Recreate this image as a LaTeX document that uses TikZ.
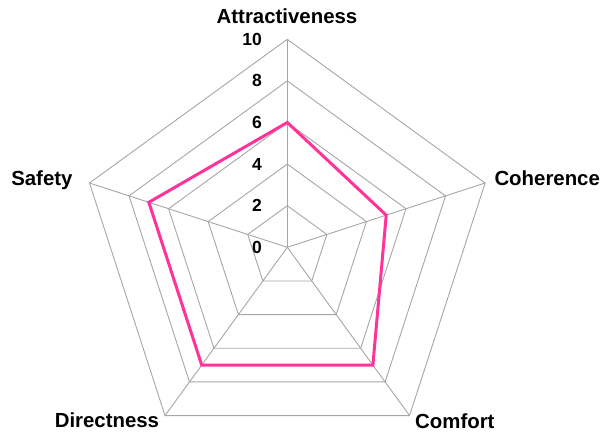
\documentclass[tikz,border=0pt]{standalone}
\usepackage{fontspec}
\setmainfont{Liberation Sans}
\usetikzlibrary{calc}
\definecolor{gridgray}{HTML}{A6A6A6}
\definecolor{datapink}{HTML}{FF3399}
\tikzset{
  gridline/.style={draw=gridgray, line width=0.9pt},
  dataline/.style={draw=datapink, line width=3pt, line join=miter},
  axislabel/.style={inner sep=0pt, font=\fontsize{20.4}{21}\selectfont\bfseries},
  ticklabel/.style={inner sep=0pt, anchor=east, font=\fontsize{17.5}{18}\selectfont\bfseries}
}
\begin{document}
\begin{tikzpicture}[x=1pt,y=1pt]
\useasboundingbox (0,0) rectangle (611,439);
\def\R{20.8}
\coordinate (c) at (287.3,191.7);
% axis vertices
\foreach \n/\a in {att/90,coh/18,com/-54,dir/-126,saf/162}{
  \coordinate (\n) at ($(c)+(\a:10*\R)$);
}
% grid pentagons
\foreach \k in {2,4,6,8,10}{
  \draw[gridline] ($(c)+(90:\k*\R)$) -- ($(c)+(18:\k*\R)$) -- ($(c)+(-54:\k*\R)$) -- ($(c)+(-126:\k*\R)$) -- ($(c)+(162:\k*\R)$) -- cycle;
}
% spokes
\foreach \n in {att,coh,com,dir,saf}{
  \draw[gridline] (c) -- (\n);
}
% data
\coordinate (d1) at ($(c)!0.6!(att)$);
\coordinate (d2) at ($(c)!0.5!(coh)$);
\coordinate (d3) at ($(c)!0.7!(com)$);
\coordinate (d4) at ($(c)!0.7!(dir)$);
\coordinate (d5) at ($(c)!0.7!(saf)$);
\draw[dataline] (d1) -- (d2) -- (d3) -- (d4) -- (d5) -- cycle;
% tick labels
\foreach \k in {0,2,4,6,8,10}{
  \node[ticklabel] (t\k) at (262,191.7+\k*\R) {\k};
}
% axis labels
\node[axislabel, anchor=base] (latt) at (287,415) {Attractiveness};
\node[axislabel, anchor=base east] (lsaf) at (72.7,253) {Safety};
\node[axislabel, anchor=base west] (lcoh) at (494.3,253) {Coherence};
\node[axislabel, anchor=base west] (lcom) at (415,10.7) {Comfort};
\node[axislabel, anchor=base east] (ldir) at (159.3,11) {Directness};
\end{tikzpicture}
\end{document}
